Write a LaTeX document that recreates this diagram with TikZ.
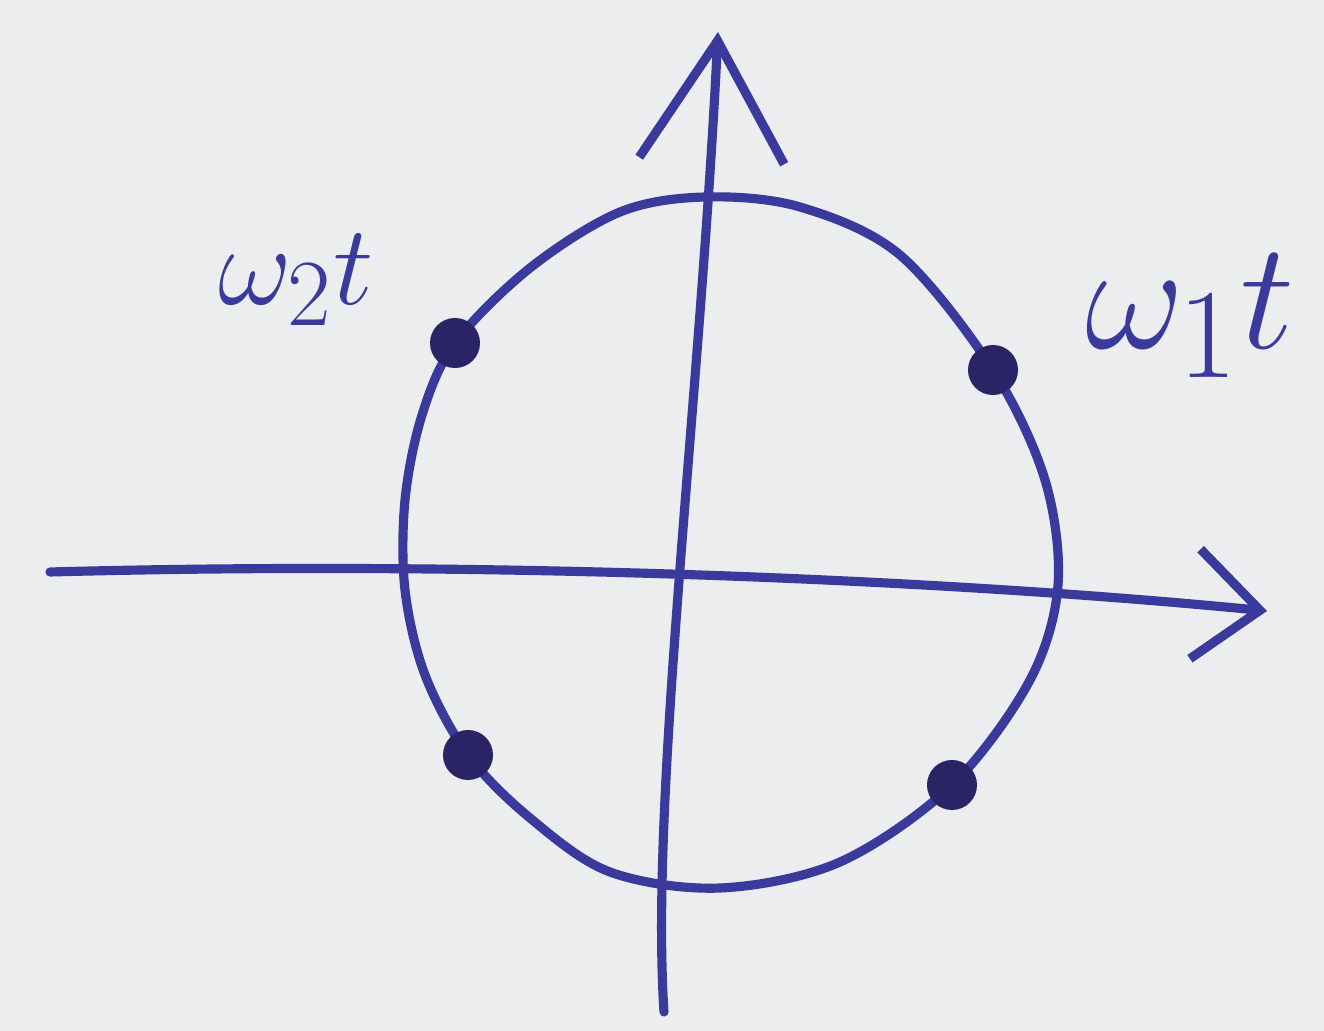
\documentclass[tikz,border=0pt]{standalone}
\usepackage{amsmath}
\usepackage{graphicx}
\usepackage{tikz}
\usetikzlibrary{arrows.meta, positioning, backgrounds}
\usepackage{xcolor}
\definecolor{penInk}  {HTML}{3A3A9C}
\definecolor{dotInk}  {HTML}{2A2466}
\definecolor{paperBg} {HTML}{ECEDEF}

\begin{document}
\begin{tikzpicture}[
  x=0.01cm, y=-0.01cm,
  pen/.style={draw=penInk, line width=2.6pt, line cap=round, line join=round},
  dot/.style={circle, fill=dotInk, minimum size=0.5cm, inner sep=0pt},
  phase/.style={text=penInk, inner sep=0pt, font=\Huge},
]

% Paper
\fill[paperBg] (0,0) rectangle (1324,1031);
\useasboundingbox (0,0) rectangle (1324,1031);

% Axes
\coordinate (xtail) at (50,572);
\coordinate (xhead) at (1267,611);
\coordinate (ytail) at (664,1012);
\coordinate (yhead) at (718,32);
\draw[pen, -{Straight Barb[length=6.5mm, width=11mm, line width=2.6pt]}]
  (xtail) .. controls (500,560) and (950,580) .. (xhead);
\draw[pen, -{Straight Barb[length=12mm, width=14.5mm, line width=2.6pt]}]
  (ytail) .. controls (650,800) and (700,400) .. (yhead);

% Circle (hand drawn, a bit lopsided)
\draw[pen] plot[smooth cycle, tension=0.55] coordinates {
  (705,197) (800,207) (900,255) (993,370) (1045,480) (1058,585)
  (1030,680) (952,785) (840,862) (720,888) (610,872) (530,818)
  (468,755) (425,675) (405,590) (405,500) (422,415) (455,343)
  (530,268) (620,212)};

% Points on the circle
\node[dot] (p1) at (993,370) {};
\node[dot] (p2) at (455,343) {};
\node[dot] (p3) at (468,755) {};
\node[dot] (p4) at (952,785) {};

% Labels
\node[phase] (w1) at (1190,316) {\scalebox{1.75}{$\omega_1 t$}};
\node[phase] (w2) at (296,280)  {\scalebox{1.3}{$\omega_2 t$}};

\end{tikzpicture}
\end{document}
